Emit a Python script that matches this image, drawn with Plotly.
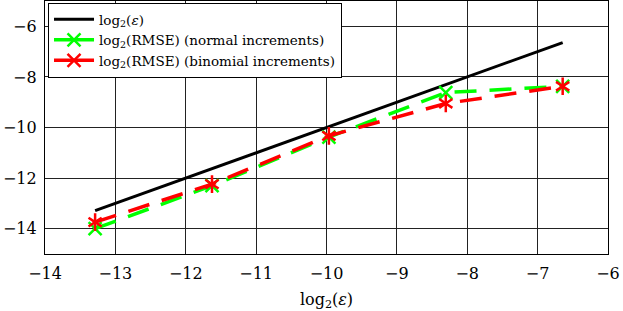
import plotly.graph_objects as go

x_eps = [-13.288, -11.627, -9.966, -8.305, -6.644]
y_eps = [-13.288, -11.627, -9.966, -8.305, -6.644]
y_normal = [-14.0, -12.3, -10.38, -8.62, -8.37]
y_binom = [-13.74, -12.24, -10.33, -9.05, -8.37]

x_ticks = [-14, -13, -12, -11, -10, -9, -8, -7, -6]
y_ticks = [-14, -12, -10, -8, -6]

FONT = "DejaVu Serif, Liberation Serif, serif"
GREEN = "#00ff00"
RED = "#ff0000"
DASH = "22px,13px"

fig = go.Figure()
fig.add_trace(go.Scatter(x=x_eps, y=y_eps, mode="lines",
                         line=dict(color="black", width=3),
                         name="log<sub>2</sub>(<i>ε</i>)"))
fig.add_trace(go.Scatter(x=x_eps, y=y_normal, mode="lines+markers",
                         line=dict(color=GREEN, width=3.5, dash=DASH),
                         marker=dict(symbol="x-thin-open", size=13, color=GREEN,
                                     line=dict(color=GREEN, width=2.5)),
                         showlegend=False))
fig.add_trace(go.Scatter(x=x_eps, y=y_binom, mode="lines",
                         line=dict(color=RED, width=3.5, dash=DASH),
                         showlegend=False))
# red asterisk markers (6-armed) built from two overlaid Y symbols
for sym in ["y-up-open", "y-down-open"]:
    fig.add_trace(go.Scatter(x=x_eps, y=y_binom, mode="markers",
                             marker=dict(symbol=sym, size=11, color=RED,
                                         line=dict(color=RED, width=2.5)),
                             showlegend=False, hoverinfo="skip"))
# legend entries (solid lines, x markers)
fig.add_trace(go.Scatter(x=[None], y=[None], mode="lines+markers",
                         line=dict(color=GREEN, width=3.5),
                         marker=dict(symbol="x-thin-open", size=13, color=GREEN,
                                     line=dict(color=GREEN, width=2.5)),
                         name="log<sub>2</sub>(RMSE) (normal increments)"))
fig.add_trace(go.Scatter(x=[None], y=[None], mode="lines+markers",
                         line=dict(color=RED, width=3.5),
                         marker=dict(symbol="x-thin-open", size=13, color=RED,
                                     line=dict(color=RED, width=2.5)),
                         name="log<sub>2</sub>(RMSE) (binomial increments)"))

axis_common = dict(showgrid=True, gridcolor="#222222", gridwidth=1,
                   showline=True, linecolor="black", linewidth=1.2, mirror=True,
                   zeroline=False, ticks="", automargin=False, ticklabeloverflow="allow",
                   tickfont=dict(family=FONT, size=16, color="black"))

fig.update_layout(
    width=623, height=311,
    margin=dict(l=45, r=15, t=1, b=57),
    plot_bgcolor="white", paper_bgcolor="white",
    font=dict(family=FONT, size=14, color="black"),
    xaxis=dict(range=[-14, -6], tickvals=x_ticks, ticktext=["−" + str(abs(v)) for v in x_ticks],
               ticklabelstandoff=5,
               title=dict(text="log<sub>2</sub>(<i>ε</i>)", font=dict(family=FONT, size=16), standoff=12),
               **axis_common),
    yaxis=dict(range=[-15, -5], tickvals=y_ticks, ticktext=["−" + str(abs(v)) for v in y_ticks],
               ticklabelstandoff=4,
               **axis_common),
    legend=dict(x=0.005, y=0.993, xanchor="left", yanchor="top",
                bgcolor="white", bordercolor="black", borderwidth=1.2,
                font=dict(family=FONT, size=13.5), tracegroupgap=0,
                itemwidth=40),
)

fig.write_html("out.html", config={"displayModeBar": False},
               post_script="document.body.style.margin='0';document.body.style.overflow='hidden';")
